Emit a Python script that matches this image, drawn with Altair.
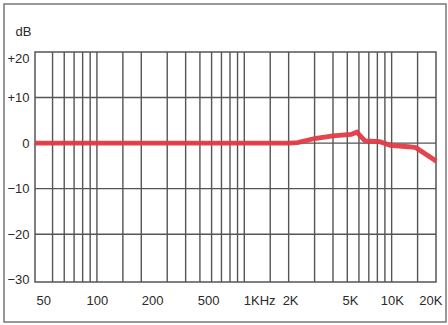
import altair as alt
import pandas as pd

# Frequency response curve (Hz, dB)
curve_freq = [38, 100, 500, 1000, 2000, 2300, 3000, 4000, 5300, 5800, 6600, 8300, 9800, 13000, 14600, 19300, 20000]
curve_db = [0, 0, 0, 0, 0, 0.1, 1.0, 1.6, 1.9, 2.4, 0.5, 0.3, -0.5, -0.8, -1.0, -3.6, -4.0]

# Grid lines
grid_freq = [50, 60, 70, 80, 90, 100, 150, 200, 300, 400, 500, 600, 700, 800, 900,
             1000, 1500, 2000, 3000, 4000, 5000, 6000, 7000, 8000, 9000, 10000, 15000]
grid_db = [10, 0, -10, -20]

# Y tick values and x tick labels (label positions in Hz as they sit on the printed chart)
y_ticks = [20, 10, 0, -10, -20, -30]
x_label_text = ["50", "100", "200", "500", "1KHz", "2K", "5K", "10K", "20K"]
x_label_pos = [43.3, 100, 237, 569, 1262, 2046, 5210, 10040, 18300]

FONT = "Liberation Sans, Arial, sans-serif"

label_expr = " : ".join(
    f"abs(datum.value - {p}) < 0.5 ? '{t}'" for p, t in zip(x_label_pos, x_label_text)
) + " : ''"

x_scale = alt.Scale(type="log", domain=[38, 20000], nice=False)
y_scale = alt.Scale(domain=[-30.5, 20], nice=False, zero=False)

curve_df = pd.DataFrame({"f": curve_freq, "db": curve_db})
vgrid_df = pd.DataFrame({"f": grid_freq})
hgrid_df = pd.DataFrame({"db": grid_db})

base_x = alt.X(
    "f:Q", scale=x_scale,
    axis=alt.Axis(values=x_label_pos, labelExpr=label_expr, title=None, ticks=False,
                  domain=False, grid=False, labelFont=FONT, labelFontSize=13,
                  labelColor="#2a2a2a", labelPadding=12, labelBaseline="top"),
)

vgrid = alt.Chart(vgrid_df).mark_rule(color="#555", strokeWidth=1.4).encode(x=base_x)

hgrid = alt.Chart(hgrid_df).mark_rule(color="#555", strokeWidth=1.4).encode(
    y=alt.Y("db:Q", scale=y_scale,
            axis=alt.Axis(values=y_ticks, title="dB", titleAngle=0, titleX=-12, titleY=-21,
                          titleAlign="center", titleBaseline="middle", titleFont=FONT,
                          titleFontSize=13, titleFontWeight="normal", titleColor="#2a2a2a",
                          labelExpr="datum.value > 0 ? '+' + datum.label : datum.label",
                          ticks=False, domain=False, grid=False, labelFont=FONT,
                          labelFontSize=13, labelColor="#2a2a2a", labelPadding=6,
                          labelFlush=True))
)

curve = alt.Chart(curve_df).mark_line(color="#e23a44", strokeWidth=4.8, opacity=0.95).encode(
    x=alt.X("f:Q", scale=x_scale),
    y=alt.Y("db:Q", scale=y_scale),
)

frame = alt.Chart(pd.DataFrame({"a": [0]})).mark_rect(
    filled=False, stroke="#777", strokeWidth=1.5
).encode(x=alt.value(-31), x2=alt.value(411), y=alt.value(-48), y2=alt.value(270))

chart = alt.layer(vgrid, hgrid, curve, frame).properties(
    width=401, height=230,
    autosize=alt.AutoSizeParams(type="none"),
    padding={"left": 35, "top": 52, "right": 12, "bottom": 43},
    background="white",
).configure_view(stroke="#555", strokeWidth=1.5)

chart.save("out.html", embed_options={"renderer": "svg", "actions": False})
